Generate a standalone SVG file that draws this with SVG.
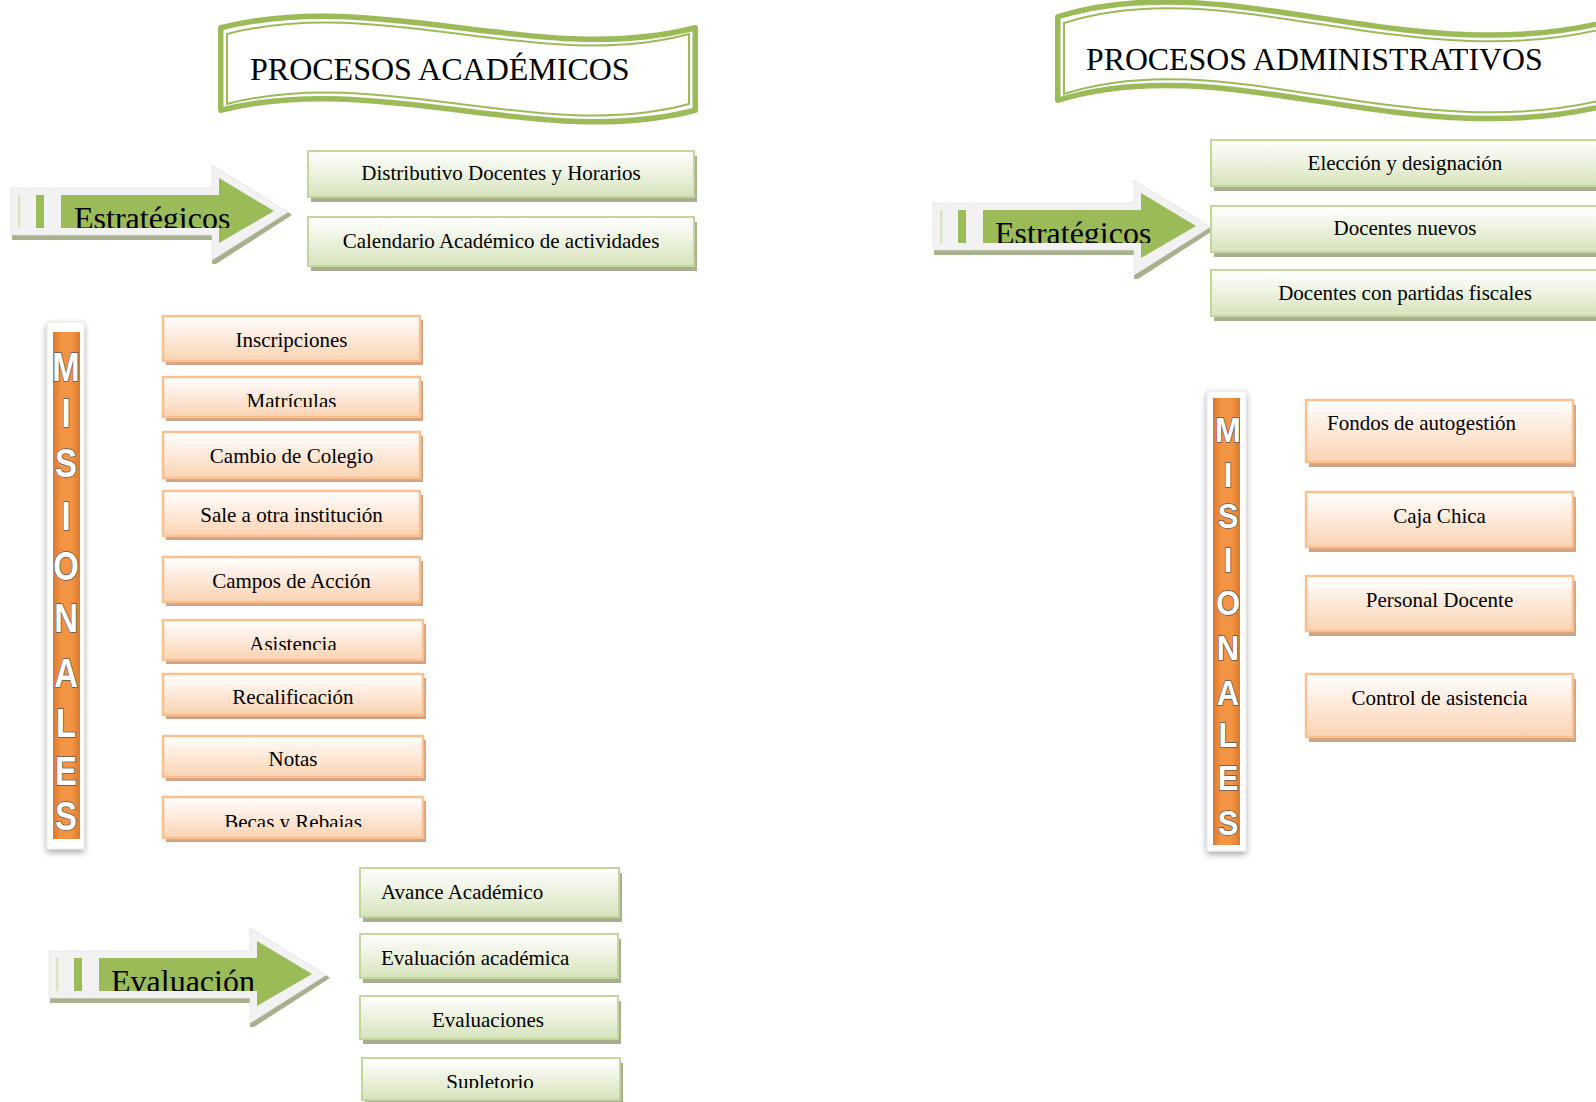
<svg xmlns="http://www.w3.org/2000/svg" xmlns:xlink="http://www.w3.org/1999/xlink" width="1596" height="1102" viewBox="0 0 1596 1102">
<style>
.t{font-family:"Liberation Serif","Times New Roman",serif;font-size:21px;fill:#000}
.c{text-anchor:middle}
.title{font-size:32px}
.title2{font-size:31.8px}
.arr{font-size:32px}
.gm{fill:url(#gGrad);stroke:#C3D69B;stroke-width:2}
.gs{fill:#A7AF8E}
.om{fill:url(#oGrad);stroke:#FAC090;stroke-width:2.5}
.os{fill:#CFA383}
.bo{fill:#fff;stroke:#9BBB59;stroke-width:5.5;stroke-linejoin:round}
.bi{fill:none;stroke:#9BBB59;stroke-width:2}
.ml{font-family:"Liberation Sans",Arial,sans-serif;font-weight:bold;fill:#fff;stroke:#5a5a5a;stroke-width:1.6;paint-order:stroke;text-anchor:middle}
.fr{fill:#F2F2F2;stroke:#E3E3E3;stroke-width:0.8}
.ag{fill:#9BBB59}
.ash{fill:#A8B18E}
</style>
<defs>
<linearGradient id="gGrad" x1="0" y1="0" x2="0" y2="1"><stop offset="0" stop-color="#FFFFFF"/><stop offset="0.45" stop-color="#EEF3E2"/><stop offset="1" stop-color="#D6E3BC"/></linearGradient>
<linearGradient id="oGrad" x1="0" y1="0" x2="0" y2="1"><stop offset="0" stop-color="#FFFFFF"/><stop offset="0.45" stop-color="#FDEBDD"/><stop offset="1" stop-color="#FBD3B2"/></linearGradient>
<linearGradient id="barGrad" x1="0" y1="0" x2="1" y2="0"><stop offset="0" stop-color="#DD792B"/><stop offset="0.3" stop-color="#F39344"/><stop offset="0.7" stop-color="#F39344"/><stop offset="1" stop-color="#DD792B"/></linearGradient>
<clipPath id="arrowClip"><rect x="50" y="25" width="170" height="38"/></clipPath>
<clipPath id="boxClip"><rect x="-5" y="-5" width="420" height="35"/></clipPath>
<filter id="barShadow" x="-50%" y="-5%" width="200%" height="112%"><feGaussianBlur in="SourceAlpha" stdDeviation="3"/><feOffset dy="3"/><feComponentTransfer><feFuncA type="linear" slope="0.35"/></feComponentTransfer><feMerge><feMergeNode/><feMergeNode in="SourceGraphic"/></feMerge></filter>
<g id="arrowBase">
<rect class="ash" x="1" y="70" width="203" height="5"/>
<polygon class="ash" points="277,47 281,50 205,99 201,99 201,95"/>
<rect class="fr" x="0" y="23" width="16" height="47"/>
<rect class="fr" x="18" y="23" width="22" height="47"/>
<polygon class="fr" points="42,23 201,23 201,0 277,47 201,95 201,70 42,70"/>
<rect x="7" y="30" width="2.5" height="33" fill="#D9E5C0"/>
<rect class="ag" x="25" y="30" width="8" height="33"/>
<polygon class="ag" points="50,30 208,30 208,13 263,46 208,78 208,63 50,63"/>
</g>
</defs>
<rect width="1596" height="1102" fill="#fff"/>

<!-- Titles -->
<g id="n-titulo-academicos">
<path class="bo" d="M220.75,27.75 C380,-12.25 540,67.75 695.25,27.75 L695.25,110.25 C540,150.25 380,70.25 220.75,110.25 Z"/>
<path class="bi" d="M227,34 C380,-6 540,74 689,34 L689,104 C540,144 380,64 227,104 Z"/>
<text class="t title" x="250" y="80">PROCESOS ACADÉMICOS</text>
</g>
<g id="n-titulo-administrativos">
<path class="bo" d="M1057.75,16.75 C1230,-37.25 1420,77.75 1625,16.75 L1625,100.25 C1420,161.25 1230,46.25 1057.75,100.25 Z"/>
<path class="bi" d="M1064,23 C1230,-31 1420,84 1625,23 L1625,94 C1420,155 1230,40 1064,94 Z"/>
<text class="t title2" x="1086" y="70">PROCESOS ADMINISTRATIVOS</text>
</g>

<!-- Arrows -->
<g id="n-estrategicos-acad" transform="translate(11,165)"><use href="#arrowBase" xlink:href="#arrowBase"/><text class="t arr" x="63" y="64" clip-path="url(#arrowClip)">Estratégicos</text></g>
<g id="n-estrategicos-admin" transform="translate(933,180)"><use href="#arrowBase" xlink:href="#arrowBase"/><text class="t arr" x="62" y="64" clip-path="url(#arrowClip)">Estratégicos</text></g>
<g id="n-evaluacion" transform="translate(49,928)"><use href="#arrowBase" xlink:href="#arrowBase"/><text class="t arr" x="62" y="64" clip-path="url(#arrowClip)">Evaluación</text></g>

<!-- Misionales bars -->
<g id="n-misionales-acad">
<rect x="47" y="322" width="37" height="527" fill="#fff" stroke="#E6E6E6" filter="url(#barShadow)"/>
<rect x="53" y="332" width="27" height="507" fill="url(#barGrad)"/>
<g class="ml" font-size="40" transform="translate(66,0) scale(0.82,1)">
<text x="0" y="381">M</text><text x="0" y="427">I</text><text x="0" y="477">S</text><text x="0" y="530">I</text><text x="0" y="580">O</text><text x="0" y="632">N</text><text x="0" y="687">A</text><text x="0" y="737">L</text><text x="0" y="785">E</text><text x="0" y="830">S</text>
</g>
</g>
<g id="n-misionales-admin">
<rect x="1207" y="391" width="39" height="460" fill="#fff" stroke="#E6E6E6" filter="url(#barShadow)"/>
<rect x="1213" y="398" width="27" height="447" fill="url(#barGrad)"/>
<g class="ml" font-size="36" transform="translate(1228,0) scale(0.86,1)">
<text x="0" y="442">M</text><text x="0" y="487">I</text><text x="0" y="528">S</text><text x="0" y="572">I</text><text x="0" y="615">O</text><text x="0" y="660">N</text><text x="0" y="705">A</text><text x="0" y="747">L</text><text x="0" y="790">E</text><text x="0" y="835">S</text>
</g>
</g>

<!-- Académicos: estratégicos -->
<g id="n-distributivo" transform="translate(308,151)"><rect class="gs" x="3" y="5" width="386" height="46"/><rect class="gm" width="386" height="46"/><text class="t c" x="193" y="29">Distributivo Docentes y Horarios</text></g>
<g id="n-calendario" transform="translate(308,217)"><rect class="gs" x="3" y="5" width="386" height="49"/><rect class="gm" width="386" height="49"/><text class="t c" x="193" y="31">Calendario Académico de actividades</text></g>

<!-- Académicos: misionales -->
<g id="n-inscripciones" transform="translate(163,316)"><rect class="os" x="3" y="4" width="257" height="45"/><rect class="om" width="257" height="45"/><text class="t c" x="128.5" y="31">Inscripciones</text></g>
<g id="n-matriculas" transform="translate(163,377)"><rect class="os" x="3" y="4" width="257" height="40"/><rect class="om" width="257" height="40"/><text class="t c" x="128.5" y="31" clip-path="url(#boxClip)">Matrículas</text></g>
<g id="n-cambio" transform="translate(163,432)"><rect class="os" x="3" y="4" width="257" height="46"/><rect class="om" width="257" height="46"/><text class="t c" x="128.5" y="31">Cambio de Colegio</text></g>
<g id="n-sale" transform="translate(163,491)"><rect class="os" x="3" y="4" width="257" height="45"/><rect class="om" width="257" height="45"/><text class="t c" x="128.5" y="31">Sale a otra institución</text></g>
<g id="n-campos" transform="translate(163,557)"><rect class="os" x="3" y="4" width="257" height="45"/><rect class="om" width="257" height="45"/><text class="t c" x="128.5" y="31">Campos de Acción</text></g>
<g id="n-asistencia" transform="translate(163,620)"><rect class="os" x="3" y="4" width="260" height="40"/><rect class="om" width="260" height="40"/><text class="t c" x="130" y="31" clip-path="url(#boxClip)">Asistencia</text></g>
<g id="n-recalificacion" transform="translate(163,674)"><rect class="os" x="3" y="4" width="260" height="41"/><rect class="om" width="260" height="41"/><text class="t c" x="130" y="30" clip-path="url(#boxClip)">Recalificación</text></g>
<g id="n-notas" transform="translate(163,736)"><rect class="os" x="3" y="4" width="260" height="41"/><rect class="om" width="260" height="41"/><text class="t c" x="130" y="30" clip-path="url(#boxClip)">Notas</text></g>
<g id="n-becas" transform="translate(163,797)"><rect class="os" x="3" y="4" width="260" height="41"/><rect class="om" width="260" height="41"/><text class="t c" x="130" y="32" clip-path="url(#boxClip)">Becas y Rebajas</text></g>

<!-- Académicos: evaluación -->
<g id="n-avance" transform="translate(360,868)"><rect class="gs" x="3" y="5" width="259" height="49"/><rect class="gm" width="259" height="49"/><text class="t" x="21" y="31">Avance Académico</text></g>
<g id="n-evaluacion-academica" transform="translate(360,934)"><rect class="gs" x="3" y="5" width="258" height="44"/><rect class="gm" width="258" height="44"/><text class="t" x="21" y="31">Evaluación académica</text></g>
<g id="n-evaluaciones" transform="translate(360,996)"><rect class="gs" x="3" y="5" width="258" height="43"/><rect class="gm" width="258" height="43"/><text class="t c" x="128" y="31">Evaluaciones</text></g>
<g id="n-supletorio" transform="translate(362,1058)"><rect class="gs" x="3" y="5" width="258" height="42"/><rect class="gm" width="258" height="42"/><text class="t c" x="128" y="31" clip-path="url(#boxClip)">Supletorio</text></g>

<!-- Administrativos: estratégicos -->
<g id="n-eleccion" transform="translate(1211,140)"><rect class="gs" x="3" y="5" width="400" height="46"/><rect class="gm" width="400" height="46"/><text class="t c" x="194" y="30">Elección y designación</text></g>
<g id="n-docentes-nuevos" transform="translate(1211,206)"><rect class="gs" x="3" y="5" width="400" height="46"/><rect class="gm" width="400" height="46"/><text class="t c" x="194" y="29">Docentes nuevos</text></g>
<g id="n-partidas" transform="translate(1211,270)"><rect class="gs" x="3" y="5" width="400" height="46"/><rect class="gm" width="400" height="46"/><text class="t c" x="194" y="30">Docentes con partidas fiscales</text></g>

<!-- Administrativos: misionales -->
<g id="n-fondos" transform="translate(1306,400)"><rect class="os" x="3" y="5" width="267" height="62"/><rect class="om" width="267" height="62"/><text class="t" x="21" y="30">Fondos de autogestión</text></g>
<g id="n-caja" transform="translate(1306,492)"><rect class="os" x="3" y="5" width="267" height="55"/><rect class="om" width="267" height="55"/><text class="t c" x="133.5" y="31">Caja Chica</text></g>
<g id="n-personal" transform="translate(1306,576)"><rect class="os" x="3" y="5" width="267" height="55"/><rect class="om" width="267" height="55"/><text class="t c" x="133.5" y="31">Personal Docente</text></g>
<g id="n-control" transform="translate(1306,674)"><rect class="os" x="3" y="5" width="267" height="63"/><rect class="om" width="267" height="63"/><text class="t c" x="133.5" y="31">Control de asistencia</text></g>

<g id="connectors"></g>
</svg>
